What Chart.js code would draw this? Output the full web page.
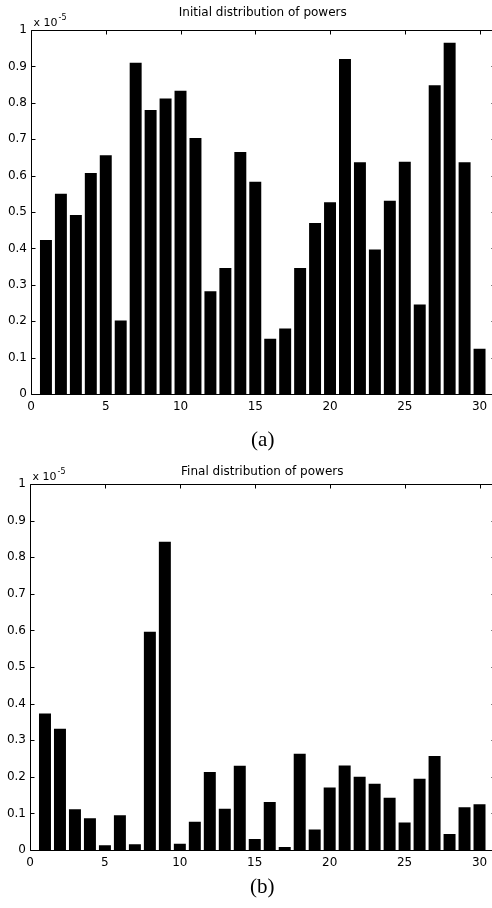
<!DOCTYPE html>
<html><head><meta charset="utf-8">
<script src="https://cdn.jsdelivr.net/npm/chart.js@4/dist/chart.umd.min.js"></script>
<style>
html,body{margin:0;padding:0;background:#fff;overflow:hidden;width:492px;height:908px;position:relative}
canvas{position:absolute;left:0}
</style></head><body>
<canvas id="c1" width="500" height="454" style="top:0"></canvas>
<canvas id="c2" width="500" height="454" style="top:454px"></canvas>
<script>
// ---- data (values in units of 1e-5) ----
const positions = [1,2,3,4,5,6,7,8,9,10,11,12,13,14,15,16,17,18,19,20,21,22,23,24,25,26,27,28,29,30];
const initialPowers = [0.423,0.55,0.492,0.607,0.656,0.202,0.91,0.78,0.812,0.833,0.703,0.282,0.346,0.665,0.583,0.152,0.18,0.346,0.47,0.527,0.92,0.637,0.397,0.531,0.638,0.246,0.848,0.965,0.637,0.124];
const finalPowers = [0.373,0.331,0.111,0.087,0.013,0.095,0.016,0.596,0.842,0.017,0.077,0.213,0.113,0.23,0.03,0.131,0.008,0.263,0.056,0.171,0.231,0.2,0.181,0.143,0.075,0.195,0.257,0.044,0.117,0.125];
const xTicks = [0,5,10,15,20,25,30];
const xTickLabels = ['0','5','10','15','20','25','30'];
const yTicks = [0,0.1,0.2,0.3,0.4,0.5,0.6,0.7,0.8,0.9,1];
const yTickLabels = ['0','0.1','0.2','0.3','0.4','0.5','0.6','0.7','0.8','0.9','1'];
const chartTitles = ['Initial distribution of powers','Final distribution of powers'];
const panelLabels = ['(a)','(b)'];
const exponentBase = 'x 10';
const exponentPower = '-5';

const SANS = '"DejaVu Sans", sans-serif';

function findLabel(vals, labels, v){
  for (let i=0;i<vals.length;i++) if (Math.abs(vals[i]-v) < 1e-6) return labels[i];
  return '';
}

const matlabAxes = {
  id: 'matlabAxes',
  afterDatasetsDraw(chart) {
    const {ctx, chartArea: a, scales: {x, y}} = chart;
    const L = Math.round(a.left)+0.5, R = Math.round(a.right)+0.5, T = Math.round(a.top)+0.5, B = Math.round(a.bottom)+0.5;
    ctx.save();
    ctx.strokeStyle = '#000'; ctx.lineWidth = 1;
    ctx.beginPath();
    ctx.moveTo(L,T); ctx.lineTo(R,T); ctx.moveTo(L,T); ctx.lineTo(L,B); ctx.lineTo(R,B); ctx.lineTo(R,T);
    const tl = 4;
    yTicks.forEach(v => {
      const py = Math.round(y.getPixelForValue(v))+0.5;
      ctx.moveTo(L,py); ctx.lineTo(L+tl,py);
      ctx.moveTo(R,py); ctx.lineTo(R-tl,py);
    });
    xTicks.forEach(v => {
      const px = Math.round(x.getPixelForValue(v))+0.5;
      ctx.moveTo(px,B); ctx.lineTo(px,B-tl);
      ctx.moveTo(px,T); ctx.lineTo(px,T+tl);
    });
    ctx.stroke();
    ctx.fillStyle = '#000';
    ctx.textAlign = 'left'; ctx.textBaseline = 'alphabetic';
    ctx.font = '11px ' + SANS;
    ctx.fillText(exponentBase, L+2, T-5);
    const w = ctx.measureText(exponentBase).width;
    ctx.font = '8px ' + SANS;
    ctx.fillText(exponentPower, L+3+w, T-11);
    ctx.restore();
  }
};

function makeChart(id, values, idx, g) {
  return new Chart(document.getElementById(id), {
    type: 'bar',
    data: {
      datasets: [{
        data: positions.map((p,i) => ({x: p, y: values[i]})),
        backgroundColor: '#000',
        borderWidth: 0,
        barPercentage: 0.8,
        categoryPercentage: 1
      }]
    },
    options: {
      responsive: false,
      animation: false,
      devicePixelRatio: 1,
      events: [],
      layout: {padding: {left: 0, right: 5.5, top: 0, bottom: 0}},
      plugins: {
        legend: {display: false},
        tooltip: {enabled: false},
        title: {
          display: true,
          fullSize: false,
          text: chartTitles[idx],
          color: '#000',
          font: {family: SANS, size: 12, weight: 'normal', lineHeight: 1.2},
          padding: {top: g.titleTop, bottom: g.titleBottom}
        }
      },
      scales: {
        x: {
          type: 'linear',
          position: 'bottom',
          min: 0, max: 31,
          offset: false,
          grid: {display: false, drawTicks: false, offset: false},
          border: {display: false},
          ticks: {
            stepSize: 5, includeBounds: false, autoSkip: false, maxRotation: 0,
            color: '#000', padding: 6,
            font: {family: SANS, size: 12},
            callback: v => findLabel(xTicks, xTickLabels, v)
          },
          title: {
            display: true, text: panelLabels[idx], color: '#000',
            font: {family: '"Liberation Serif", serif', size: 21, lineHeight: 1.2},
            padding: {top: 0, bottom: g.labelBottom}
          },
          afterFit: s => { s.height = g.xHeight; }
        },
        y: {
          type: 'linear',
          position: 'left',
          min: 0, max: 1,
          grid: {display: false, drawTicks: false},
          border: {display: false},
          ticks: {
            stepSize: 0.1, includeBounds: false, autoSkip: false,
            color: '#000', padding: 4,
            font: {family: SANS, size: 12},
            callback: v => findLabel(yTicks, yTickLabels, v)
          },
          afterFit: s => { s.width = g.yWidth; }
        }
      }
    },
    plugins: [matlabAxes]
  });
}

makeChart('c1', initialPowers, 0, {yWidth: 31, titleTop: 5.8, titleBottom: 9.8, xHeight: 60, labelBottom: 1.4});
makeChart('c2', finalPowers, 1, {yWidth: 30, titleTop: 10.8, titleBottom: 4.8, xHeight: 58, labelBottom: 8.4});
</script>
</body></html>
